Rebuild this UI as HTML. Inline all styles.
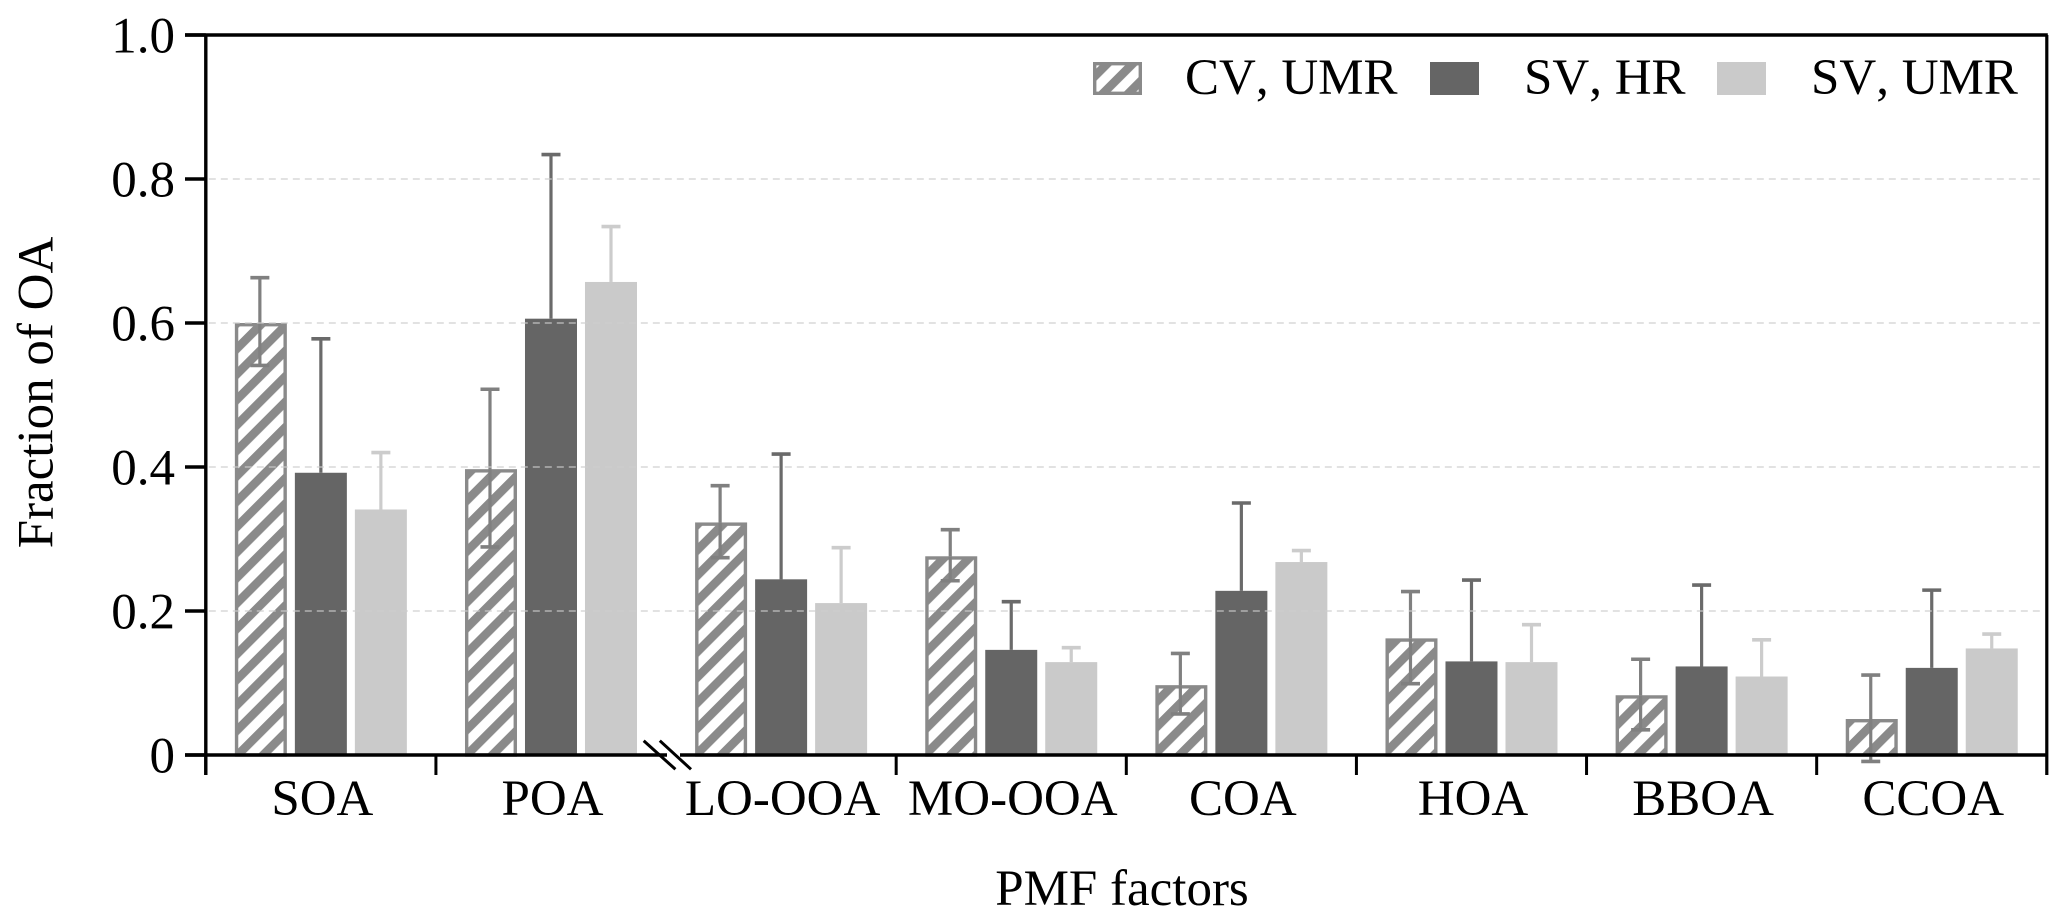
<!DOCTYPE html>
<html lang="en">
<head>
<meta charset="utf-8">
<title>Fraction of OA by PMF factor</title>
<style>
  html, body { margin: 0; padding: 0; background: #fff; }
  body { width: 2067px; height: 923px; overflow: hidden; }
  svg { display: block; }
  text { font-family: "Liberation Serif", serif; font-size: 51px; fill: #000; font-kerning: none; }
</style>
</head>
<body>
<svg id="chart" xmlns="http://www.w3.org/2000/svg" width="2067" height="923" viewBox="0 0 2067 923">
  <defs>
    <pattern id="hatch" patternUnits="userSpaceOnUse" width="18" height="18" patternTransform="translate(238.3 729) rotate(45) translate(-4.3 0)">
      <rect x="0" y="0" width="18" height="18" fill="#ffffff"></rect>
      <rect x="0" y="0" width="8.6" height="18" fill="#8a8a8a"></rect>
    </pattern>
  </defs>
  <rect x="0" y="0" width="2067" height="923" fill="#ffffff"></rect>
  <g id="bars"></g>
  <g id="errors"></g>
  <g id="grid"></g>
  <g id="axes"></g>
  <g id="legend"></g>
  <text x="1122" y="905" text-anchor="middle">PMF factors</text>
  <text x="0" y="0" text-anchor="middle" transform="translate(52.5 392.5) rotate(-90)">Fraction of OA</text>
</svg>
<script>
// Chart data
var categories = ["SOA", "POA", "LO-OOA", "MO-OOA", "COA", "HOA", "BBOA", "CCOA"];
var cvUmrValues = [0.600, 0.397, 0.323, 0.276, 0.097, 0.162, 0.083, 0.050];
var cvUmrErrHigh = [0.663, 0.508, 0.374, 0.313, 0.141, 0.227, 0.133, 0.111];
var cvUmrErrLow = [0.541, 0.289, 0.274, 0.242, 0.057, 0.099, 0.035, -0.009];
var svHrValues = [0.392, 0.606, 0.244, 0.146, 0.228, 0.130, 0.123, 0.121];
var svHrErrHigh = [0.578, 0.834, 0.418, 0.213, 0.350, 0.243, 0.236, 0.229];
var svUmrValues = [0.341, 0.657, 0.211, 0.129, 0.268, 0.129, 0.109, 0.148];
var svUmrErrHigh = [0.420, 0.734, 0.288, 0.149, 0.284, 0.181, 0.160, 0.168];
var yTickValues = [0, 0.2, 0.4, 0.6, 0.8, 1.0];
var yTickLabels = ["0", "0.2", "0.4", "0.6", "0.8", "1.0"];
var gridValues = [0.2, 0.4, 0.6, 0.8];
var legendLabels = ["CV, UMR", "SV, HR", "SV, UMR"];

// Axis functions
var plotLeft = 205.8;
var plotRight = 2046.8;
var catWidth = (plotRight - plotLeft) / categories.length;
function xCat(i) { return plotLeft + catWidth * i; }
function xCenter(i) { return xCat(i) + catWidth / 2; }
function yVal(v) { return 755 - 720 * v; }

var NS = "http://www.w3.org/2000/svg";
function mk(parent, tag, attrs) {
  var el = document.createElementNS(NS, tag);
  for (var k in attrs) { el.setAttribute(k, attrs[k]); }
  parent.appendChild(el);
  return el;
}

var barsG = document.getElementById("bars");
var errG = document.getElementById("errors");
var gridG = document.getElementById("grid");
var axesG = document.getElementById("axes");
var legendG = document.getElementById("legend");

var barW = 52;
var groupStep = 60;
var capW = 19;

function drawBar(i, offset, value, kind) {
  var cx = xCenter(i) + offset;
  var top = yVal(value);
  var bottom = yVal(0);
  var el;
  if (kind === "hatch") {
    el = mk(barsG, "rect", { x: cx - barW / 2 + 1.7, y: top + 1.7, width: barW - 3.4, height: bottom - top - 1.7, fill: "url(#hatch)", stroke: "#8a8a8a", "stroke-width": 3.4 });
  } else {
    el = mk(barsG, "rect", { x: cx - barW / 2, y: top, width: barW, height: bottom - top, fill: kind });
  }
  
  
}

function drawErr(i, offset, from, to, color) {
  var cx = xCenter(i) + offset;
  var stem = mk(errG, "line", { x1: cx, x2: cx, y1: yVal(from), y2: yVal(to), stroke: color, "stroke-width": 3.2 });
  
  
  var cap = mk(errG, "line", { x1: cx - capW / 2, x2: cx + capW / 2, y1: yVal(to), y2: yVal(to), stroke: color, "stroke-width": 3.6 });
  
  
}

categories.forEach(function (cat, i) {
  drawBar(i, -groupStep, cvUmrValues[i], "hatch");
  drawBar(i, 0, svHrValues[i], "#656565");
  drawBar(i, groupStep, svUmrValues[i], "#cacaca");
  drawErr(i, -groupStep - 1, cvUmrValues[i], cvUmrErrHigh[i], "#808080");
  drawErr(i, -groupStep - 1, cvUmrValues[i], cvUmrErrLow[i], "#808080");
  drawErr(i, 0, svHrValues[i], svHrErrHigh[i], "#6a6a6a");
  drawErr(i, groupStep, svUmrValues[i], svUmrErrHigh[i], "#cccccc");
});

gridValues.forEach(function (v) {
  var g = mk(gridG, "line", { x1: plotLeft + 3, x2: plotRight - 4, y1: yVal(v), y2: yVal(v), stroke: "#cccccc", "stroke-opacity": 0.75, "stroke-width": 1.6, "stroke-dasharray": "7 5" });
  
  
});

// Axes
var axisColor = "#000000";
var leftAxis = mk(axesG, "line", { x1: plotLeft, x2: plotLeft, y1: yVal(1), y2: 775, stroke: axisColor, "stroke-width": 3.4 });


var rightAxis = mk(axesG, "line", { x1: plotRight, x2: plotRight, y1: yVal(1), y2: 775, stroke: axisColor, "stroke-width": 3.2 });


var topAxis = mk(axesG, "line", { x1: 185, x2: plotRight + 1, y1: yVal(1), y2: yVal(1), stroke: axisColor, "stroke-width": 3.4 });


var baseLeft = mk(axesG, "line", { x1: 185, x2: 667, y1: yVal(0), y2: yVal(0), stroke: axisColor, "stroke-width": 3.6 });


var baseRight = mk(axesG, "line", { x1: 680, x2: plotRight + 1, y1: yVal(0), y2: yVal(0), stroke: axisColor, "stroke-width": 3.6 });


var slash1 = mk(axesG, "line", { x1: 643.7, x2: 675.4, y1: 740.7, y2: 769.3, stroke: axisColor, "stroke-width": 3 });


var slash2 = mk(axesG, "line", { x1: 659.8, x2: 691, y1: 740.7, y2: 769.3, stroke: axisColor, "stroke-width": 3 });



yTickValues.forEach(function (v, i) {
  var t = mk(axesG, "line", { x1: 185, x2: plotLeft, y1: yVal(v), y2: yVal(v), stroke: axisColor, "stroke-width": 3.4 });
  
  
  var l = mk(axesG, "text", { x: 175, y: yVal(v) + 17.5, "text-anchor": "end" });
  
  
  l.textContent = yTickLabels[i];
});

categories.forEach(function (cat, i) {
  if (i === 2) { /* the break mark replaces this separator tick */ } else {
    var t = mk(axesG, "line", { x1: xCat(i), x2: xCat(i), y1: yVal(0), y2: 775, stroke: axisColor, "stroke-width": 3 });
    
    
  }
  var l = mk(axesG, "text", { x: xCenter(i) + 1.5, y: 815, "text-anchor": "middle" });
  
  
  l.textContent = cat;
});

// Legend
var swatchXs = [1093, 1430, 1717];
var labelXs = [1185, 1524, 1811];
var swatchFills = ["url(#hatch)", "#656565", "#cacaca"];
legendLabels.forEach(function (label, i) {
  var s = mk(legendG, "rect", { x: swatchXs[i] + (i === 0 ? 1.7 : 0), y: 62 + (i === 0 ? 1.7 : 0), width: 49 - (i === 0 ? 3.4 : 0), height: 33 - (i === 0 ? 3.4 : 0), fill: swatchFills[i] });
  if (i === 0) { s.setAttribute("stroke", "#8a8a8a"); s.setAttribute("stroke-width", 3.4); }
  
  
  var l = mk(legendG, "text", { x: labelXs[i], y: 94 });
  
  
  l.textContent = label;
});
</script>
</body>
</html>
